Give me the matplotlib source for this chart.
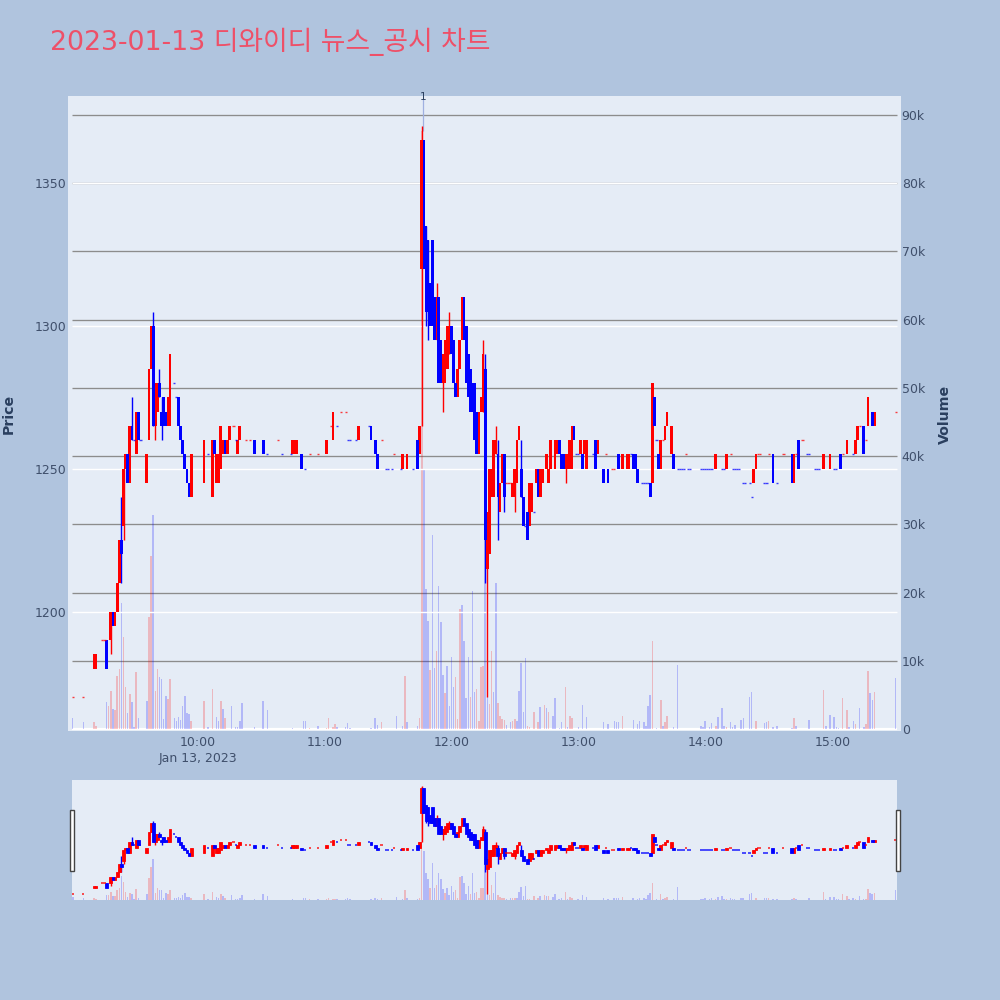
import pandas as pd
import numpy as np
import matplotlib
matplotlib.use('Agg')
import matplotlib.pyplot as plt
import matplotlib.dates as mdates
from matplotlib.patches import Rectangle

plt.rcParams['font.family'] = ['DejaVu Sans', 'Noto Sans CJK KR']

# 상승 캔들 (분, 시가, 종가)
up_min = [10, 11, 18, 20, 21, 22, 24, 25, 27, 30, 35, 36, 37, 39, 40, 45, 46, 56, 62, 66, 68, 69, 70, 71, 73, 74, 78, 79,
          104, 105, 106, 120, 123, 135, 156, 158, 164, 165, 172, 175, 176, 177, 178, 182, 183, 184, 192, 193, 194,
          196, 197, 198, 199, 200, 202, 203, 208, 209, 210, 211, 216, 217, 219, 221, 222, 224, 225, 226, 228, 229,
          233, 234, 235, 236, 240, 242, 243, 248, 260, 262, 263, 274, 278, 280, 281, 283, 304, 309, 322, 323, 341,
          355, 358, 366, 370, 371, 376, 379]
up_open = [1180, 1180, 1190, 1195, 1200, 1210, 1230, 1250, 1245, 1255, 1245, 1260, 1285, 1265, 1270, 1265, 1265, 1240, 1245, 1240, 1245, 1245, 1250, 1255, 1255, 1260, 1255, 1260,
           1255, 1255, 1255, 1255, 1260, 1260, 1250, 1250, 1255, 1320, 1295, 1280, 1280, 1285, 1290, 1275, 1285, 1295, 1255, 1270, 1270,
           1215, 1220, 1240, 1240, 1255, 1235, 1245, 1240, 1240, 1245, 1260, 1230, 1235, 1245, 1240, 1245, 1250, 1245, 1250, 1250, 1255,
           1250, 1250, 1250, 1250, 1255, 1255, 1250, 1255, 1250, 1250, 1250, 1245, 1250, 1260, 1265, 1255, 1250, 1250, 1245, 1250, 1245,
           1250, 1250, 1255, 1255, 1260, 1265, 1265]
up_close = [1185, 1185, 1200, 1200, 1210, 1225, 1250, 1255, 1265, 1270, 1255, 1285, 1300, 1280, 1280, 1275, 1290, 1255, 1260, 1260, 1255, 1255, 1265, 1260, 1260, 1265, 1260, 1265,
            1260, 1260, 1260, 1260, 1270, 1265, 1255, 1255, 1265, 1365, 1310, 1290, 1295, 1300, 1300, 1285, 1295, 1310, 1270, 1275, 1290,
            1235, 1250, 1250, 1260, 1260, 1245, 1255, 1245, 1250, 1260, 1265, 1245, 1245, 1250, 1250, 1250, 1255, 1250, 1260, 1260, 1260,
            1255, 1255, 1260, 1265, 1260, 1260, 1260, 1260, 1255, 1255, 1255, 1280, 1260, 1265, 1270, 1265, 1255, 1255, 1250, 1255, 1255,
            1255, 1255, 1260, 1260, 1265, 1275, 1270]

# 하락 캔들 (분, 시가, 종가)
down_min = [16, 19, 23, 26, 28, 31, 38, 41, 42, 43, 44, 50, 51, 52, 53, 54, 55, 67, 72, 86, 90, 108, 141, 143, 144, 163,
            166, 167, 168, 169, 170, 171, 173, 174, 179, 180, 181, 185, 186, 187, 188, 189, 190, 191, 195, 201, 204,
            212, 213, 215, 220, 230, 231, 232, 237, 241, 247, 251, 253, 258, 265, 266, 267, 273, 275, 277, 284,
            331, 340, 343, 363, 374, 378]
down_open = [1190, 1200, 1225, 1255, 1265, 1270, 1300, 1280, 1270, 1275, 1270, 1275, 1265, 1260, 1255, 1250, 1245, 1260, 1260, 1260, 1260, 1255, 1265, 1260, 1255, 1260,
             1365, 1335, 1330, 1315, 1330, 1310, 1310, 1295, 1300, 1295, 1280, 1310, 1300, 1290, 1285, 1280, 1280, 1270, 1285, 1255, 1255,
             1250, 1240, 1235, 1250, 1260, 1255, 1255, 1265, 1255, 1260, 1250, 1250, 1255, 1255, 1255, 1250, 1245, 1275, 1255, 1255,
             1255, 1255, 1260, 1255, 1265, 1270]
down_close = [1180, 1195, 1220, 1245, 1260, 1260, 1265, 1275, 1265, 1265, 1265, 1265, 1260, 1255, 1250, 1245, 1240, 1255, 1255, 1255, 1255, 1250, 1260, 1255, 1250, 1250,
              1320, 1305, 1305, 1300, 1300, 1295, 1280, 1280, 1290, 1280, 1275, 1295, 1280, 1275, 1270, 1270, 1260, 1255, 1225, 1240, 1240,
              1240, 1230, 1225, 1240, 1255, 1250, 1250, 1260, 1250, 1250, 1245, 1245, 1250, 1250, 1250, 1245, 1240, 1265, 1250, 1250,
              1245, 1245, 1250, 1250, 1255, 1265]

# 꼬리
up_wick_min = [18, 24, 39, 165, 172, 175, 178, 194, 196, 200, 209, 233]
up_wick_low = [1185, 1225, 1260, 1265, 1295, 1270, 1290, 1270, 1170, 1255, 1235, 1245]
up_wick_high = [1200, 1250, 1280, 1370, 1315, 1290, 1305, 1295, 1235, 1265, 1250, 1255]
down_wick_min = [23, 28, 38, 41, 42, 167, 168, 195, 201, 204, 212]
down_wick_low = [1210, 1260, 1265, 1275, 1260, 1300, 1295, 1210, 1225, 1235, 1240]
down_wick_high = [1240, 1275, 1305, 1285, 1275, 1335, 1330, 1290, 1260, 1255, 1260]

# 시가=종가 (점처럼 보이는 캔들)
up_flat_min = [0, 5, 14, 15, 76, 82, 84, 97, 112, 116, 122, 127, 129, 146, 152, 205, 206, 207, 252, 255, 256, 279, 290,
               311, 324, 325, 329, 336, 342, 345, 364, 372, 375, 389]
up_flat_price = [1170, 1170, 1190, 1190, 1265, 1260, 1260, 1260, 1255, 1255, 1265, 1270, 1270, 1260, 1255, 1245, 1245, 1245, 1255, 1250, 1250, 1260, 1255,
                 1255, 1255, 1255, 1255, 1255, 1255, 1260, 1255, 1265, 1260, 1270]
down_flat_min = [29, 32, 48, 49, 64, 77, 92, 99, 103, 110, 125, 130, 131, 134, 140, 148, 149, 151, 155, 161, 214, 218, 238, 239, 246, 264,
                 269, 270, 271, 272, 276, 286, 287, 288, 289, 291, 292, 297, 298, 299, 300, 301, 302, 307, 308, 312, 313, 314, 315,
                 317, 318, 320, 321, 327, 328, 333, 347, 348, 351, 352, 353, 360, 361, 369]
down_flat_price = [1260, 1260, 1280, 1275, 1255, 1260, 1255, 1255, 1255, 1250, 1265, 1260, 1260, 1260, 1265, 1250, 1250, 1250, 1250, 1250, 1230, 1235, 1255, 1255, 1255, 1255,
                   1245, 1245, 1245, 1245, 1260, 1250, 1250, 1250, 1250, 1250, 1250, 1250, 1250, 1250, 1250, 1250, 1250, 1250, 1250, 1250, 1250, 1250, 1250,
                   1245, 1245, 1245, 1240, 1245, 1245, 1245, 1255, 1255, 1250, 1250, 1250, 1250, 1250, 1255]

# 거래량
up_vol_min = [10, 11, 17, 18, 20, 21, 22, 24, 25, 27, 30, 36, 37, 39, 40, 45, 46, 56, 62, 66, 70, 72, 112, 120, 121, 123, 124, 146, 157, 164, 165,
              169, 172, 176, 181, 182, 183, 188, 191, 192, 193, 194, 197, 198, 201, 202, 203, 204, 208, 209, 215, 216, 218, 220, 223, 225,
              233, 235, 236, 260, 274, 278, 280, 281, 304, 309, 323, 329, 341, 355, 364, 366, 370, 375, 376, 379]
up_vol = [980, 440, 3400, 5600, 2800, 7700, 8850, 13500, 6200, 5100, 8300, 16400, 25400, 5500, 8750, 4350, 7300, 1200, 4150, 5800, 4150, 1560, 150, 150, 1560, 340, 780, 980, 7700, 1600, 87700,
          8650, 11500, 5230, 7680, 1470, 17550, 4650, 5870, 1120, 9050, 9200, 3670, 11400, 3770, 1960, 1470, 1370, 1220, 1470, 490, 240, 2440, 980, 3520, 2540,
          6200, 1960, 1610, 1960, 12960, 4250, 980, 1860, 490, 240, 1220, 1220, 1610, 5770, 4550, 2790, 730, 730, 8460, 5380]
down_vol_min = [0, 5, 16, 19, 23, 26, 28, 29, 31, 35, 38, 41, 42, 43, 44, 48, 49, 50, 51, 52, 53, 54, 55, 64, 68, 69, 71, 75, 77, 78, 79, 80, 86, 90, 92,
                104, 109, 110, 116, 125, 129, 130, 131, 141, 143, 144, 153, 156, 158, 163, 166, 167, 168, 170, 171, 173, 174, 175, 177, 178, 179, 180,
                184, 185, 186, 187, 189, 190, 195, 196, 199, 200, 205, 207, 210, 211, 212, 213, 214, 221, 224, 227, 228, 230, 231, 234, 239, 241, 243,
                251, 253, 256, 257, 258, 265, 267, 268, 270, 271, 272, 273, 276, 279, 284, 286, 297, 298, 299, 301, 302, 305, 307, 308, 311, 312, 313,
                316, 317, 320, 321, 327, 328, 331, 333, 340, 342, 348, 356, 358, 360, 361, 362, 367, 369, 372, 374, 377, 378, 389]
down_vol = [1660, 980, 3900, 3000, 18500, 2400, 4000, 300, 1560, 4100, 31400, 7600, 7300, 1400, 4900, 1560, 1200, 1800, 1300, 3300, 4800, 2400, 2200, 240, 1800, 1200, 3000, 3400, 350, 350, 1200, 3800, 350, 4050, 2800,
            150, 1100, 1200, 440, 340, 340, 880, 150, 150, 1600, 640, 1960, 440, 1000, 490, 38100, 20500, 15900, 28400, 8950, 20900, 15650, 7970, 9300, 3420, 10500, 6200,
            18240, 12960, 4550, 10510, 20300, 5380, 33000, 4650, 5380, 21400, 640, 980, 1220, 5530, 9730, 2540, 10400, 3180, 3030, 1960, 4550, 150, 980, 240, 240, 3520, 1710,
            980, 730, 1120, 980, 980, 1320, 730, 1220, 980, 390, 3420, 5040, 150, 390, 240, 9440, 490, 240, 1220, 240, 880, 1810, 3030, 490, 980, 240, 640,
            1320, 1610, 4650, 5480, 880, 980, 240, 490, 150, 490, 1320, 390, 2100, 1810, 340, 150, 240, 1220, 3080, 240, 5230, 4300, 7430]

price_ticks = [1200, 1250, 1300, 1350]
volume_ticks = [0, 10000, 20000, 30000, 40000, 50000, 60000, 70000, 80000, 90000]
volume_tick_labels = ['0', '10k', '20k', '30k', '40k', '50k', '60k', '70k', '80k', '90k']

start = pd.Timestamp('2023-01-13 09:00:50')


def to_x(minutes):
    # 분 -> matplotlib 날짜 숫자
    return mdates.date2num(start + pd.to_timedelta(np.array(minutes), unit='m'))


one_min = 1 / 1440
RED = '#ff0000'
BLUE = '#0000ff'
TEXT = '#3f4f6b'
BG = '#e5ecf6'


def draw_all(ax, ax_v, body_w, vol_w, wick_lw, edge_lw, flat_lw):
    ax_v.bar(to_x(up_vol_min), up_vol, width=vol_w * one_min, color=RED, alpha=0.22, linewidth=0)
    ax_v.bar(to_x(down_vol_min), down_vol, width=vol_w * one_min, color=BLUE, alpha=0.22, linewidth=0)

    ax.vlines(to_x(up_wick_min), up_wick_low, up_wick_high, color=RED, linewidth=wick_lw, zorder=3)
    ax.vlines(to_x(down_wick_min), down_wick_low, down_wick_high, color=BLUE, linewidth=wick_lw, zorder=3)

    up_bottom = np.array(up_open)
    down_bottom = np.array(down_close)
    ax.bar(to_x(up_min), np.array(up_close) - up_bottom, bottom=up_bottom, width=body_w * one_min,
           color=RED, edgecolor=RED, linewidth=edge_lw, zorder=4)
    ax.bar(to_x(down_min), np.array(down_open) - down_bottom, bottom=down_bottom, width=body_w * one_min,
           color=BLUE, edgecolor=BLUE, linewidth=edge_lw, zorder=4)
    # 점 캔들
    ax.hlines(up_flat_price, to_x(up_flat_min) - 0.5 * one_min, to_x(up_flat_min) + 0.5 * one_min,
              color=RED, linewidth=flat_lw, alpha=0.75, zorder=4)
    ax.hlines(down_flat_price, to_x(down_flat_min) - 0.5 * one_min, to_x(down_flat_min) + 0.5 * one_min,
              color=BLUE, linewidth=flat_lw, alpha=0.75, zorder=4)


fig = plt.figure(figsize=(10, 10), dpi=100, facecolor='#b0c4de')

# 메인 차트
ax_v = fig.add_axes([0.068, 0.269, 0.833, 0.635], facecolor=BG)
ax = ax_v.twinx()
ax.set_zorder(ax_v.get_zorder() + 1)
ax.patch.set_visible(False)
ax.yaxis.tick_left()
ax.yaxis.set_label_position('left')
ax_v.yaxis.tick_right()
ax_v.yaxis.set_label_position('right')

x_left = to_x(-2.25)
x_right = to_x(391.57)
line_left = to_x(-0.36)
line_right = to_x(389.72)
ax_v.set_xlim(x_left, x_right)
ax_v.set_ylim(-293, 92785)
ax.set_ylim(1158.2, 1380.45)

ax_v.hlines(volume_ticks[1:], line_left, line_right, color='#8c8c8c', linewidth=0.95, zorder=1)
ax_v.hlines(0, line_left, line_right, color='white', linewidth=1.6, zorder=1)
ax.hlines(price_ticks, line_left, line_right, color='white', linewidth=1.0, zorder=1)

draw_all(ax, ax_v, 1.3, 0.7, 1.0, 0, 1.0)

# 주석 1
ax_v.vlines(to_x(165.75), 87700, 92300, color='#9fb0e0', linewidth=0.9)
ax.text(to_x(165.75), 1380.2, '1', ha='center', va='center', fontsize=7.5, color='#2a3f5f')

for side in ax.spines.values():
    side.set_visible(False)
for side in ax_v.spines.values():
    side.set_visible(False)

ax.set_yticks(price_ticks)
ax.tick_params(axis='y', length=0, labelsize=9, labelcolor=TEXT, pad=1)
ax_v.set_yticks(volume_ticks)
ax_v.set_yticklabels(volume_tick_labels)
ax_v.tick_params(axis='y', length=0, labelsize=9, labelcolor=TEXT, pad=0.5)

hours = pd.to_datetime(['2023-01-13 10:00', '2023-01-13 11:00', '2023-01-13 12:00',
                        '2023-01-13 13:00', '2023-01-13 14:00', '2023-01-13 15:00'])
hour_labels = ['10:00\nJan 13, 2023', '11:00', '12:00', '13:00', '14:00', '15:00']
ax_v.set_xticks(mdates.date2num(hours))
ax_v.set_xticklabels(hour_labels, linespacing=1.35)
ax_v.tick_params(axis='x', length=0, labelsize=9, labelcolor=TEXT, pad=3.3)
ax.tick_params(axis='x', length=0, labelbottom=False)

fig.text(0.009, 0.586, 'Price', rotation=90, ha='center', va='center', fontsize=10.2, fontweight='bold', color='#2a3f5f')
fig.text(0.945, 0.586, 'Volume', rotation=90, ha='center', va='center', fontsize=10.2, fontweight='bold', color='#2a3f5f')

# 제목
fig.text(0.05, 0.958, '2023-01-13 디와이디 뉴스_공시 차트', ha='left', va='center', fontsize=19.3, color='#ee5068')

# 레인지 슬라이더
ax_sv = fig.add_axes([0.072, 0.1, 0.825, 0.12], facecolor=BG)
ax_s = ax_sv.twinx()
ax_s.set_zorder(ax_sv.get_zorder() + 1)
ax_s.patch.set_visible(False)
ax_sv.set_xlim(line_left, line_right)
ax_sv.set_ylim(-293, 92785)
ax_s.set_ylim(1158.2, 1380.45)
draw_all(ax_s, ax_sv, 1.3, 0.7, 1.0, 0.6, 1.3)
for a in [ax_s, ax_sv]:
    a.set_xticks([])
    a.set_yticks([])
    for side in a.spines.values():
        side.set_visible(False)

# 슬라이더 손잡이
for hx in [0.0695, 0.8955]:
    fig.add_artist(Rectangle((hx, 0.129), 0.004, 0.061, transform=fig.transFigure,
                             facecolor='white', edgecolor='#444444', linewidth=1.0, zorder=10))

fig.savefig('out.png', dpi=100, facecolor=fig.get_facecolor())
